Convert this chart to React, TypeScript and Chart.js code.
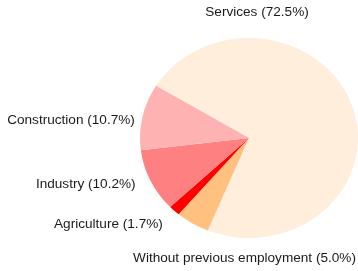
import React, { useEffect, useRef } from "react";
import { Chart, registerables } from "chart.js";

Chart.register(...registerables);

const categories = [
  "Services",
  "Without previous employment",
  "Agriculture",
  "Industry",
  "Construction",
];
const shares = [72.5, 5.0, 1.7, 10.2, 10.7];
const colors = ["#ffeedc", "#ffc080", "#ff0000", "#ff8080", "#ffb2b2"];
// where each label sits: "top", "bottom" or "side" (at 1.1 r on the slice's middle angle)
const labelPlacement = ["top", "bottom", "side", "side", "side"];

const X_STRETCH = 1.09;
const LABEL_NUDGE_Y: Record<string, number> = { Agriculture: 6, Industry: -1, Construction: 6 };
const LABEL_NUDGE_X: Record<string, number> = { Agriculture: -4, Industry: -5, Construction: 3 };

const stretchPlugin = {
  id: "stretch",
  beforeDatasetsDraw(chart: any) {
    const arc = chart.getDatasetMeta(0).data[0];
    const ctx = chart.ctx;
    ctx.save();
    ctx.translate(arc.x, arc.y);
    ctx.scale(X_STRETCH, 1);
    ctx.translate(-arc.x, -arc.y);
  },
  afterDatasetsDraw(chart: any) {
    chart.ctx.restore();
  },
};

const labelPlugin = {
  id: "outerLabels",
  afterDraw(chart: any) {
    const ctx = chart.ctx;
    const meta = chart.getDatasetMeta(0);
    ctx.save();
    ctx.font = '13.6px "Liberation Sans", Arial, sans-serif';
    ctx.fillStyle = "#1a1a1a";
    ctx.textBaseline = "middle";
    meta.data.forEach((arc: any, i: number) => {
      const r = arc.outerRadius;
      const text = `${categories[i]} (${shares[i].toFixed(1)}%)`;
      const place = labelPlacement[i];
      if (place === "top") {
        ctx.textAlign = "center";
        ctx.fillText(text, arc.x + 0.08 * r, arc.y - 1.26 * r);
      } else if (place === "bottom") {
        ctx.textAlign = "center";
        ctx.fillText(text, arc.x - 0.045 * r, arc.y + 1.2 * r);
      } else {
        const mid = (arc.startAngle + arc.endAngle) / 2;
        const lx = arc.x + Math.cos(mid) * 1.1 * r * X_STRETCH + (LABEL_NUDGE_X[categories[i]] || 0);
        const ly = arc.y + Math.sin(mid) * 1.1 * r + (LABEL_NUDGE_Y[categories[i]] || 0);
        ctx.textAlign = Math.cos(mid) < 0 ? "right" : "left";
        ctx.fillText(text, lx, ly);
      }
    });
    ctx.restore();
  },
};

export default function App() {
  const ref = useRef<HTMLCanvasElement | null>(null);
  useEffect(() => {
    document.body.style.margin = "0";
    const chart = new Chart(ref.current as HTMLCanvasElement, {
      type: "pie",
      data: {
        labels: categories,
        datasets: [
          {
            data: shares,
            backgroundColor: colors,
            borderWidth: 0,
          },
        ],
      },
      options: {
        animation: false,
        responsive: false,
        rotation: 301.5,
        layout: { padding: { left: 149, right: 9, top: 38, bottom: 33 } },
        plugins: {
          legend: { display: false },
          tooltip: { enabled: false },
        },
      },
      plugins: [stretchPlugin, labelPlugin],
    });
    return () => chart.destroy();
  }, []);
  return (
    <div style={{ width: 358, height: 271 }}>
      <canvas ref={ref} width={358} height={271} style={{ display: "block" }} />
    </div>
  );
}
